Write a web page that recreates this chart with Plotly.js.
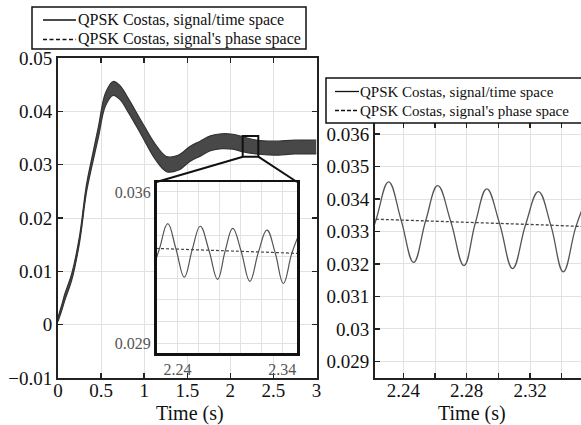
<!DOCTYPE html>
<html><head><meta charset="utf-8">
<script src="https://cdn.plot.ly/plotly-3.0.1.min.js"></script>
<style>html,body{margin:0;padding:0;background:#fff}#plot{width:581px;height:425px}</style>
</head><body><div id="plot"></div>
<script>
// ---- main panel (0..3 s): centre of the oscillating band and its half-width ----
var mainT    = [0, 0.04, 0.08, 0.16, 0.25, 0.33, 0.40, 0.47, 0.55, 0.64, 0.72, 0.82, 0.97, 1.13, 1.26, 1.40, 1.53, 1.65, 1.77, 1.90, 2.03, 2.15, 2.30, 2.50, 2.75, 3.0];
var mainMean = [0.0010, 0.0030, 0.0052, 0.0090, 0.0160, 0.0255, 0.0310, 0.0362, 0.0422, 0.0443, 0.0435, 0.0410, 0.0368, 0.0324, 0.0301, 0.0304, 0.0320, 0.0330, 0.0340, 0.0344, 0.0343, 0.0338, 0.0333, 0.0331, 0.0333, 0.0333];
var mainAmp  = [0.0004, 0.0005, 0.0006, 0.0006, 0.0006, 0.0007, 0.0008, 0.0010, 0.0012, 0.0013, 0.0013, 0.0013, 0.0013, 0.0014, 0.0014, 0.0014, 0.0014, 0.0014, 0.0014, 0.0014, 0.0014, 0.0014, 0.0013, 0.0013, 0.0013, 0.0013];
// ---- zoomed window (2.22..2.35 s): extrema and mean crossings of signal/time space ----
var zoomT = [2.2149, 2.2228, 2.2307, 2.2386, 2.2465, 2.2541, 2.2617, 2.2700, 2.2783, 2.2855, 2.2927, 2.3008, 2.3090, 2.3172, 2.3253, 2.3332, 2.3410, 2.3490, 2.3568];
var zoomV = [0.03215, 0.03337, 0.03453, 0.03335, 0.03205, 0.03333, 0.03441, 0.03330, 0.03195, 0.03327, 0.03431, 0.03324, 0.03186, 0.03321, 0.03423, 0.03318, 0.03176, 0.03315, 0.03415];
// ---- zoomed window: signal's phase space ----
var phaseT = [2.21, 2.25, 2.29, 2.33, 2.36];
var phaseV = [0.03340, 0.03334, 0.03327, 0.03320, 0.03314];
// ---- names and tick labels ----
var nameTime  = "QPSK Costas, signal/time space";
var namePhase = "QPSK Costas, signal's phase space";
var xTitle = "Time (s)";
var mainXTicks = [0, 0.5, 1, 1.5, 2, 2.5, 3];
var rightXVals = [2.24, 2.26, 2.28, 2.30, 2.32, 2.34];
var rightXText = ["2.24", "", "2.28", "", "2.32", ""];
var insetXVals = [2.24, 2.26, 2.28, 2.30, 2.32, 2.34];
var insetXText = ["2.24", "", "", "", "", "2.34"];
var insetYVals = [0.029, 0.030, 0.031, 0.032, 0.033, 0.034, 0.035, 0.036];
var insetYText = ["0.029", "", "", "", "", "", "", "0.036"];

var upper = mainMean.map(function (m, i) { return m + mainAmp[i]; });
var lower = mainMean.map(function (m, i) { return m - mainAmp[i]; });

var FONT = "Liberation Serif";
var W = 581, H = 425;
function px(x) { return x / W; }
function py(y) { return 1 - y / H; }

var traces = [
  {x: mainT, y: mainMean, xaxis: 'x', yaxis: 'y', mode: 'lines', name: namePhase, line: {color: '#111', width: 1.3, dash: '3px,2px', shape: 'spline'}, showlegend: false},
  {x: mainT, y: lower, xaxis: 'x', yaxis: 'y', mode: 'lines', name: nameTime, line: {color: '#333', width: 1.2, shape: 'spline'}, showlegend: false},
  {x: mainT, y: upper, xaxis: 'x', yaxis: 'y', mode: 'lines', name: nameTime, fill: 'tonexty', fillcolor: 'rgb(72,72,72)', line: {color: '#333', width: 1.2, shape: 'spline'}, showlegend: false},
  {x: zoomT, y: zoomV, xaxis: 'x2', yaxis: 'y2', mode: 'lines', name: nameTime, line: {color: '#555', width: 1.3, shape: 'spline', smoothing: 1.2}, showlegend: false},
  {x: phaseT, y: phaseV, xaxis: 'x2', yaxis: 'y2', mode: 'lines', name: namePhase, line: {color: '#444', width: 1.3, dash: '3px,2px'}, showlegend: false},
  {x: zoomT, y: zoomV, xaxis: 'x3', yaxis: 'y3', mode: 'lines', line: {color: '#555', width: 1.2, shape: 'spline', smoothing: 1.2}, showlegend: false},
  {x: phaseT, y: phaseV, xaxis: 'x3', yaxis: 'y3', mode: 'lines', line: {color: '#444', width: 1.2, dash: '3px,2px'}, showlegend: false}
];

var grid = '#e2e2e2';
var axBase = {showline: true, linecolor: '#222', linewidth: 2, mirror: 'ticks', ticks: 'inside', ticklen: 5, tickwidth: 1.5, tickcolor: '#222', showgrid: true, gridcolor: grid, gridwidth: 1, zeroline: false, tickfont: {family: FONT, size: 19, color: '#111'}};
function ax(o) { return Object.assign({}, axBase, o); }

// legend drawn as a framed box with line samples and text
function legendBox(x0, y0, x1, y1, sx0, sx1, tx, rows, fs, dash) {
  var shapes = [{type: 'rect', xref: 'paper', yref: 'paper', x0: px(x0), x1: px(x1), y0: py(y1), y1: py(y0), fillcolor: '#fff', line: {color: '#111', width: 1.5}, layer: 'above'}];
  var ann = [];
  rows.forEach(function (r, i) {
    shapes.push({type: 'line', xref: 'paper', yref: 'paper', x0: px(sx0), x1: px(sx1), y0: py(r.y), y1: py(r.y), layer: 'above',
                 line: {color: '#111', width: 1.3, dash: i === 0 ? 'solid' : dash}});
    ann.push({text: r.text, xref: 'paper', yref: 'paper', x: px(tx), y: py(r.y), xanchor: 'left', yanchor: 'middle', showarrow: false,
              borderpad: 0, font: {family: FONT, size: fs, color: '#111'}});
  });
  return {shapes: shapes, ann: ann};
}
var legL = legendBox(32, 7, 306, 49, 43, 76, 77, [{y: 20, text: nameTime}, {y: 39.5, text: namePhase}], 16, '4px,2.5px');
var legR = legendBox(326, 78, 640, 123, 335, 359, 359, [{y: 91.5, text: nameTime}, {y: 110.5, text: namePhase}], 15, '4px,2px');

var layout = {
  width: W, height: H,
  margin: {l: 0, r: 0, t: 0, b: 0, autoexpand: false},
  paper_bgcolor: '#fff', plot_bgcolor: '#fff',
  font: {family: FONT, color: '#111'},
  showlegend: false,
  xaxis: ax({domain: [px(58), px(316.5)], range: [0, 3], tickmode: 'array', tickvals: mainXTicks, anchor: 'y', ticklabelstandoff: -6}),
  yaxis: ax({domain: [py(378), py(58)], range: [-0.01, 0.05], dtick: 0.01, tick0: 0, anchor: 'x'}),
  xaxis2: ax({domain: [px(375), 1], range: [2.2221, 2.3522], tickmode: 'array', tickvals: rightXVals, ticktext: rightXText, anchor: 'y2', ticklabelstandoff: -6}),
  yaxis2: ax({domain: [py(378), py(122.7)], range: [0.02849, 0.03635], dtick: 0.001, tick0: 0.029, anchor: 'x2', mirror: false}),
  xaxis3: ax({domain: [px(156.5), px(297)], range: [2.22, 2.354], tickmode: 'array', tickvals: insetXVals, ticktext: insetXText, anchor: 'y3',
             ticks: '', linewidth: 2.5, mirror: true, linecolor: '#111', tickfont: {family: FONT, size: 16, color: '#555'}}),
  yaxis3: ax({domain: [py(353), py(182)], range: [0.02854, 0.03646], tickmode: 'array', tickvals: insetYVals, ticktext: insetYText, anchor: 'x3',
             ticks: '', linewidth: 2.5, mirror: true, linecolor: '#111', tickfont: {family: FONT, size: 16, color: '#555'}}),
  annotations: [
    {text: xTitle, xref: 'paper', yref: 'paper', x: px(190), y: py(413), xanchor: 'center', yanchor: 'middle', showarrow: false, font: {family: FONT, size: 20, color: '#111'}},
    {text: xTitle, xref: 'paper', yref: 'paper', x: px(472), y: py(413), xanchor: 'center', yanchor: 'middle', showarrow: false, font: {family: FONT, size: 20, color: '#111'}}
  ].concat(legL.ann, legR.ann),
  shapes: [
    {type: 'rect', xref: 'paper', yref: 'paper', x0: px(242.7), x1: px(258.3), y0: py(156.7), y1: py(136), line: {color: '#111', width: 2}},
    {type: 'line', xref: 'paper', yref: 'paper', x0: px(243), y0: py(156.7), x1: px(156.5), y1: py(182), line: {color: '#111', width: 2}},
    {type: 'line', xref: 'paper', yref: 'paper', x0: px(258.3), y0: py(156.7), x1: px(297), y1: py(182), line: {color: '#111', width: 2}}
  ].concat(legL.shapes, legR.shapes)
};

Plotly.newPlot('plot', traces, layout, {staticPlot: true, displayModeBar: false});
</script>
</body></html>
